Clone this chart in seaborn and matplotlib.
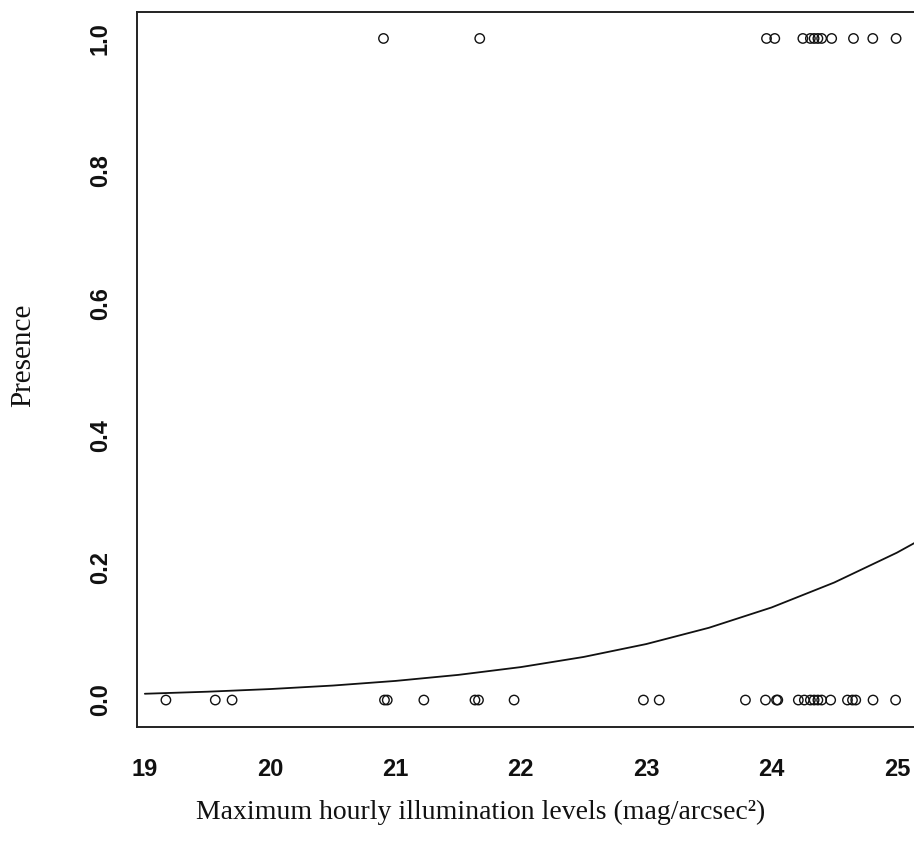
import matplotlib
matplotlib.use("Agg")
import matplotlib.pyplot as plt
import numpy as np
import pandas as pd
import seaborn as sns

# Observed illumination (mag/arcsec^2) at sites where the species was present / absent
present_x = [20.904, 21.672, 23.96, 24.026, 24.25, 24.31, 24.34, 24.37, 24.40,
             24.48, 24.654, 24.808, 24.994]
absent_x = [19.168, 19.562, 19.696, 20.912, 20.934, 21.226, 21.634, 21.662,
            21.946, 22.978, 23.104, 23.792, 23.952, 24.04, 24.05, 24.214,
            24.262, 24.31, 24.34, 24.37, 24.40, 24.472, 24.606, 24.646,
            24.672, 24.81, 24.99]

# Fitted logistic response (predicted probability of presence)
curve_x = [19.0, 19.5, 20.0, 20.5, 21.0, 21.5, 22.0, 22.5, 23.0, 23.5,
           24.0, 24.5, 25.0, 25.3]
curve_p = [0.0095, 0.0126, 0.0166, 0.0219, 0.0289, 0.0380, 0.0498, 0.0651,
           0.0846, 0.1092, 0.1399, 0.1776, 0.2227, 0.2540]

x_ticks = [19, 20, 21, 22, 23, 24, 25]
y_ticks = [0.0, 0.2, 0.4, 0.6, 0.8, 1.0]
y_ticklabels = ["0.0", "0.2", "0.4", "0.6", "0.8", "1.0"]

points = pd.DataFrame({
    "illum": present_x + absent_x,
    "presence": [1.0] * len(present_x) + [0.0] * len(absent_x),
})
curve = pd.DataFrame({"illum": curve_x, "p": curve_p})

sns.set_theme(style="white")
plt.rcParams["font.family"] = ["Liberation Sans Narrow", "Liberation Sans", "DejaVu Sans"]

W, H = 914, 842
fig = plt.figure(figsize=(W / 100, H / 100), dpi=100)
# plot region in pixels: left 136.7, right 925.3 (runs past the edge), top 12, bottom 726.5
ax = fig.add_axes([136.7 / W, 1 - 726.5 / H, (925.3 - 136.7) / W, (726.5 - 12) / H])

sns.lineplot(data=curve, x="illum", y="p", ax=ax, color="#111111",
             linewidth=1.3, estimator=None, sort=True)
sns.scatterplot(data=points, x="illum", y="presence", ax=ax, s=46,
                marker="o", facecolor="none", edgecolor="#111111",
                linewidth=1.0, zorder=3)

# R-style 4% padding around the data range
xmin, xmax = min(points["illum"]), max(points["illum"])
pad = 0.04 * (xmax - xmin)
ax.set_xlim(xmin - pad, xmax + pad)
ax.set_ylim(-0.04, 1.04)

for s in ax.spines.values():
    s.set_color("#222222")
    s.set_linewidth(1.4)
    s.set_visible(True)

ax.set_xticks(x_ticks)
ax.set_xticklabels([str(t) for t in x_ticks], fontsize=17, fontweight="bold")
ax.set_yticks(y_ticks)
ax.set_yticklabels(y_ticklabels, fontsize=17, fontweight="bold",
                   rotation=90, va="center")
ax.tick_params(axis="both", direction="out", length=8, width=1.1,
               color="#222222", labelcolor="#111111")
ax.tick_params(axis="x", pad=15)
ax.tick_params(axis="y", pad=10)

serif = ["Liberation Serif", "DejaVu Serif"]
ax.set_xlabel("Maximum hourly illumination levels (mag/arcsec\u00b2)",
              fontsize=20, family=serif, color="#111111")
ax.set_ylabel("Presence", fontsize=21, family=serif, color="#111111")
ax.xaxis.set_label_coords((481 - 136.7) / 788.6, (726.5 - 812) / 714.5)
ax.xaxis.label.set_va("center")
ax.yaxis.set_label_coords((23 - 136.7) / 788.6, (726.5 - 355) / 714.5)
ax.yaxis.label.set_va("center")

fig.savefig("out.png", dpi=100, facecolor="white")
